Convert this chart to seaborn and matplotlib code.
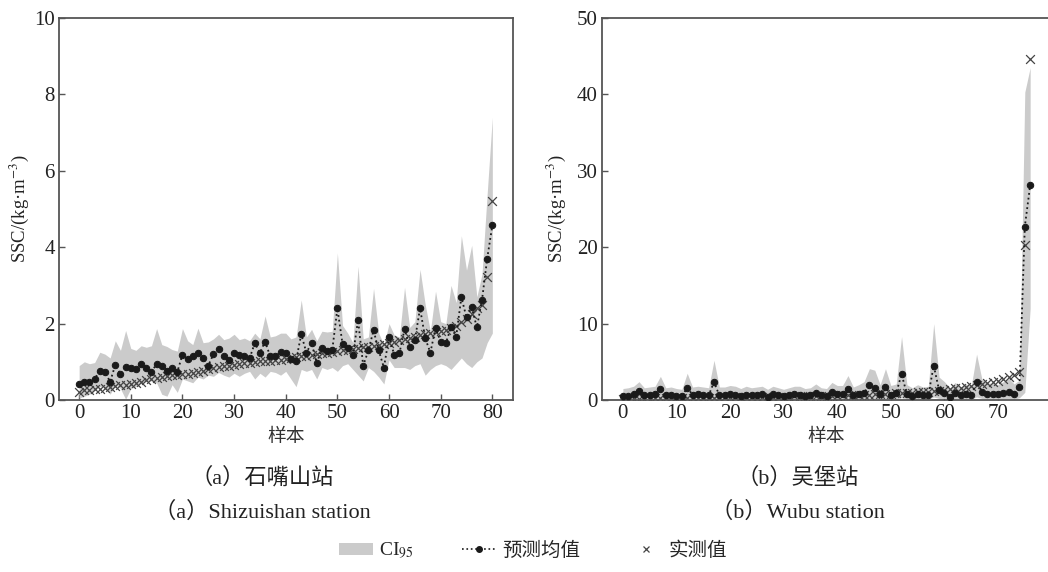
import numpy as np
import matplotlib
matplotlib.use('Agg')
import matplotlib.pyplot as plt
import seaborn as sns
from matplotlib.patches import Patch
from matplotlib.lines import Line2D

# ==========================================
# 1. 数据 (石嘴山站 / 吴堡站)
# ==========================================
# (a) 石嘴山站, 样本 0..80
szs_pred = [0.41, 0.46, 0.48, 0.55, 0.77, 0.72, 0.48, 0.92, 0.68, 0.87,
            0.85, 0.80, 0.94, 0.83, 0.74, 0.94, 0.90, 0.77, 0.85, 0.73,
            1.19, 1.07, 1.14, 1.22, 1.09, 0.90, 1.20, 1.33, 1.14, 1.04,
            1.22, 1.18, 1.14, 1.09, 1.49, 1.24, 1.53, 1.14, 1.15, 1.25,
            1.22, 1.07, 1.03, 1.72, 1.24, 1.49, 0.96, 1.36, 1.27, 1.30,
            2.40, 1.46, 1.36, 1.18, 2.09, 0.90, 1.30, 1.82, 1.30, 0.85,
            1.64, 1.19, 1.22, 1.85, 1.40, 1.57, 2.40, 1.62, 1.24, 1.88,
            1.53, 1.49, 1.90, 1.66, 2.69, 2.16, 2.43, 1.90, 2.62, 3.70,
            4.57]
szs_obs = [0.22, 0.25, 0.27, 0.29, 0.30, 0.31, 0.33, 0.36, 0.38, 0.40,
           0.41, 0.44, 0.48, 0.52, 0.55, 0.57, 0.60, 0.63, 0.65, 0.66,
           0.68, 0.69, 0.71, 0.73, 0.75, 0.80, 0.84, 0.86, 0.88, 0.90,
           0.92, 0.95, 0.97, 0.98, 1.00, 1.01, 1.02, 1.03, 1.04, 1.06,
           1.08, 1.10, 1.12, 1.14, 1.16, 1.18, 1.20, 1.22, 1.24, 1.26,
           1.28, 1.30, 1.32, 1.34, 1.36, 1.38, 1.40, 1.42, 1.44, 1.47,
           1.50, 1.53, 1.56, 1.59, 1.62, 1.66, 1.70, 1.73, 1.76, 1.78,
           1.80, 1.84, 1.88, 1.93, 2.05, 2.13, 2.25, 2.40, 2.48, 3.22,
           5.22]
szs_upper = [0.90, 1.00, 0.95, 0.98, 1.25, 1.20, 1.10, 1.55, 1.30, 1.82,
             1.35, 1.30, 1.42, 1.38, 1.42, 1.87, 1.45, 1.40, 1.32, 1.28,
             1.87, 1.55, 1.45, 1.88, 1.50, 1.52, 1.60, 1.72, 1.58, 1.62,
             1.72, 1.58, 1.62, 1.55, 1.75, 1.60, 2.20, 1.65, 1.68, 1.75,
             1.75, 1.60, 1.65, 2.62, 1.65, 1.85, 1.55, 1.80, 1.78, 1.80,
             3.85, 1.95, 1.75, 1.50, 3.50, 1.60, 1.65, 2.92, 1.75, 1.45,
             2.00, 1.70, 1.65, 2.95, 1.90, 2.05, 3.42, 2.50, 1.80, 2.85,
             2.05, 2.00, 3.00, 2.55, 4.30, 3.40, 4.05, 2.70, 3.30, 5.40,
             7.40]
szs_lower = [0.05, 0.10, 0.15, 0.25, 0.35, 0.35, 0.15, 0.40, 0.30, 0.02,
             0.30, 0.35, 0.45, 0.48, 0.50, 0.45, 0.15, 0.10, 0.40, 0.20,
             0.55, 0.50, 0.45, 0.60, 0.55, 0.65, 0.62, 0.72, 0.65, 0.60,
             0.70, 0.62, 0.70, 0.75, 0.55, 0.70, 0.60, 0.75, 0.72, 0.65,
             0.75, 0.55, 0.35, 0.80, 0.75, 0.80, 0.55, 0.85, 0.80, 0.85,
             0.75, 0.90, 0.95, 0.80, 0.65, 0.50, 0.85, 0.75, 0.60, 0.42,
             1.05, 0.85, 0.85, 0.85, 0.80, 0.90, 0.95, 0.65, 0.80, 0.90,
             0.95, 0.90, 0.80, 0.95, 1.10, 0.95, 0.85, 1.00, 1.10, 1.50,
             1.75]

# (b) 吴堡站, 样本 0..76
wb_pred = [0.52, 0.55, 0.75, 1.15, 0.60, 0.65, 0.80, 1.45, 0.60, 0.70,
           0.55, 0.50, 1.60, 0.70, 0.75, 0.65, 0.60, 2.35, 0.60, 0.65,
           0.85, 0.70, 0.55, 0.70, 0.60, 0.70, 0.75, 0.45, 0.75, 0.60,
           0.55, 0.65, 0.80, 0.70, 0.55, 0.60, 0.95, 0.60, 0.55, 1.00,
           0.80, 0.80, 1.45, 0.60, 0.75, 0.95, 1.90, 1.60, 0.75, 1.75,
           0.70, 0.90, 3.40, 0.75, 0.55, 0.75, 0.60, 0.65, 4.50, 1.30,
           0.90, 0.45, 0.95, 0.60, 0.85, 0.65, 2.30, 1.10, 0.85, 0.85,
           0.75, 0.90, 1.10, 0.75, 1.70, 22.7, 28.1]
wb_obs = [0.10, 0.12, 0.14, 0.15, 0.17, 0.18, 0.20, 0.21, 0.22, 0.23,
          0.24, 0.25, 0.26, 0.27, 0.28, 0.29, 0.30, 0.31, 0.32, 0.33,
          0.34, 0.35, 0.36, 0.37, 0.38, 0.39, 0.40, 0.41, 0.42, 0.43,
          0.44, 0.45, 0.46, 0.47, 0.48, 0.49, 0.50, 0.52, 0.54, 0.56,
          0.58, 0.60, 0.62, 0.64, 0.66, 0.68, 0.70, 0.73, 0.76, 0.79,
          0.82, 0.86, 0.90, 0.94, 0.98, 1.02, 1.06, 1.10, 1.15, 1.20,
          1.35, 1.45, 1.55, 1.62, 1.70, 1.78, 1.90, 2.05, 2.20, 2.35,
          2.55, 2.75, 3.00, 3.30, 3.70, 20.3, 44.6]
wb_upper = [1.5, 1.6, 1.8, 2.4, 1.6, 1.7, 1.8, 3.1, 1.6, 1.7,
            1.5, 1.4, 3.5, 1.7, 1.8, 1.7, 1.6, 5.2, 1.7, 1.7,
            1.9, 1.8, 1.5, 1.8, 1.6, 1.7, 1.8, 1.4, 1.8, 1.6,
            1.4, 1.6, 1.8, 1.8, 1.5, 1.6, 2.1, 1.6, 1.5, 2.3,
            1.9, 1.9, 3.2, 1.7, 2.0, 2.4, 4.1, 3.9, 2.0, 4.1,
            1.9, 2.1, 8.3, 2.0, 1.6, 2.0, 1.7, 1.8, 10.0, 3.0,
            2.4, 1.6, 2.3, 1.7, 2.1, 1.8, 6.0, 2.7, 2.2, 2.2,
            2.0, 2.4, 2.8, 2.1, 2.6, 40.3, 43.5]
wb_lower = [0.05, 0.05, 0.10, 0.10, 0.05, 0.05, 0.10, 0.10, 0.05, 0.05,
            0.05, 0.05, 0.10, 0.05, 0.05, 0.05, 0.05, 0.10, 0.05, 0.05,
            0.10, 0.05, 0.05, 0.05, 0.05, 0.05, 0.05, 0.05, 0.05, 0.05,
            0.05, 0.05, 0.10, 0.05, 0.05, 0.05, 0.10, 0.05, 0.05, 0.10,
            0.10, 0.10, 0.10, 0.05, 0.10, 0.10, 0.20, 0.20, 0.10, 0.20,
            0.10, 0.10, 0.30, 0.10, 0.05, 0.10, 0.05, 0.10, 0.40, 0.20,
            0.20, 0.05, 0.20, 0.10, 0.15, 0.10, 0.40, 0.20, 0.15, 0.15,
            0.10, 0.15, 0.20, 0.10, 0.30, 1.0, 12.0]

# ==========================================
# 2. 样式
# ==========================================
sns.set_theme(style='ticks')
plt.rcParams['font.family'] = ['Liberation Serif', 'Noto Sans CJK SC']
plt.rcParams['mathtext.fontset'] = 'stix'
plt.rcParams['axes.unicode_minus'] = False

BAND = '#cbcbcb'
SPINE = '#555555'
FS = 15

fig = plt.figure(figsize=(10.48, 5.72), dpi=100)
ax1 = fig.add_axes([59 / 1048, 1 - 400 / 572, 454 / 1048, 382 / 572])
ax2 = fig.add_axes([602 / 1048, 1 - 400 / 572, 448 / 1048, 382 / 572])


def draw_panel(ax, pred, obs, lower, upper):
    idx = np.arange(len(pred))
    ax.fill_between(idx, lower, upper, color=BAND, lw=0, zorder=1)
    sns.scatterplot(x=idx, y=obs, ax=ax, marker='x', s=40, color='#444444',
                    linewidth=0.9, zorder=2, legend=False)
    sns.lineplot(x=idx, y=pred, ax=ax, color='k', linestyle=':', lw=1.3,
                 marker='o', markersize=4.6, markeredgecolor='k',
                 markerfacecolor='k', zorder=3, legend=False)
    ax.tick_params(direction='in', length=4, width=1, colors=SPINE,
                   labelsize=FS, labelcolor='#222222', pad=3)
    for s in ax.spines.values():
        s.set_color(SPINE)
        s.set_linewidth(1.3)
    ax.set_xlabel('样本', fontsize=13.5, color='#333333', labelpad=4)
    ax.set_ylabel('SSC/(kg·m$^{-3}$)', fontsize=13.5, color='#222222')


draw_panel(ax1, szs_pred, szs_obs, szs_lower, szs_upper)
ax1.set_xlim(-3.9, 84)
ax1.set_ylim(0, 10)
ax1.set_xticks(range(0, 81, 10))
ax1.set_yticks(range(0, 11, 2))
ax1.yaxis.set_label_coords(-0.062, 0.5)

draw_panel(ax2, wb_pred, wb_obs, wb_lower, wb_upper)
ax2.set_xlim(-3.9, 79.7)
ax2.set_ylim(0, 50)
ax2.set_xticks(range(0, 71, 10))
ax2.set_yticks(range(0, 51, 10))
ax2.yaxis.set_label_coords(-0.076, 0.5)

# 图注
CAP = 16
fig.text(262 / 1048, 1 - 478 / 572, '（a）石嘴山站', ha='center', va='center',
         fontsize=CAP, color='#222222')
fig.text(262 / 1048, 1 - 512 / 572, '（a）Shizuishan station', ha='center',
         va='center', fontsize=CAP, color='#222222')
fig.text(798 / 1048, 1 - 478 / 572, '（b）吴堡站', ha='center', va='center',
         fontsize=CAP, color='#222222')
fig.text(798 / 1048, 1 - 512 / 572, '（b）Wubu station', ha='center',
         va='center', fontsize=CAP, color='#222222')

# 图例
handles = [
    Patch(facecolor=BAND, edgecolor='none'),
    Line2D([], [], color='k', linestyle=':', lw=1.2, marker='o', markersize=4),
    Line2D([], [], color='#444444', linestyle='none', marker='x',
           markersize=5, markeredgewidth=0.9),
]
labels = ['CI$_{95}$', '预测均值', '实测值']
fig.legend(handles, labels, loc='center', bbox_to_anchor=(533 / 1048, 1 - 551 / 572),
           ncol=3, frameon=False, fontsize=14, handlelength=1.75,
           handleheight=0.6, handletextpad=0.3, columnspacing=2.5)

fig.savefig('out.png', dpi=100)
